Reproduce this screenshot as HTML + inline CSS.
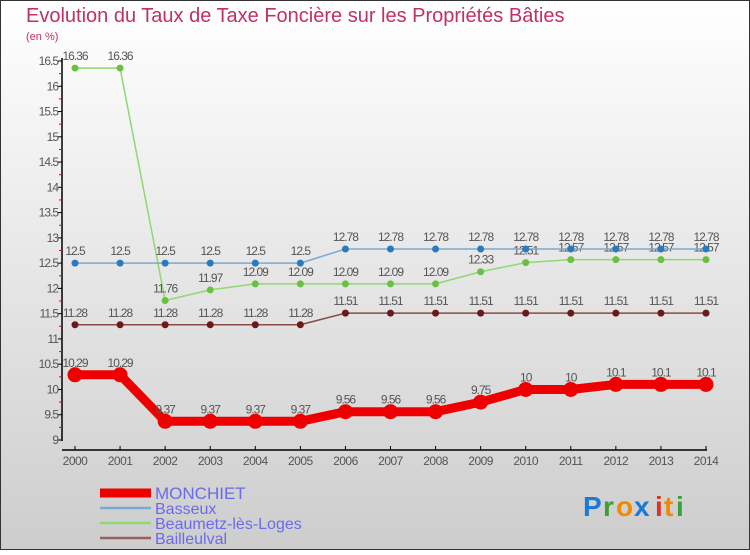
<!DOCTYPE html>
<html><head><meta charset="utf-8"><style>
body{margin:0}
svg text{font-family:"Liberation Sans",sans-serif}
</style></head><body>
<svg width="750" height="550" xmlns="http://www.w3.org/2000/svg">
<defs><linearGradient id="bg" x1="0" y1="0" x2="0" y2="1"><stop offset="0" stop-color="#ffffff"/><stop offset="1" stop-color="#cdcdcd"/></linearGradient></defs>
<rect x="0.5" y="0.5" width="749" height="549" fill="url(#bg)" stroke="#333"/>
<text x="26" y="22" font-size="20" fill="#c0306a">Evolution du Taux de Taxe Foncière sur les Propriétés Bâties</text>
<text x="26" y="40" font-size="11" fill="#c0306a">(en %)</text>
<g id="axes"></g>
<g id="series"></g>
<g id="legend"></g>
<g font-size="28" font-weight="bold">
<text x="583" y="516" fill="#1a7ad4">P</text><text x="603" y="516" fill="#3aa03a">r</text><text x="616" y="516" fill="#f08a00">o</text><text x="634" y="516" fill="#1a7ad4">x</text><text x="655" y="516" fill="#e03020">i</text><text x="664" y="516" fill="#f08a00">t</text><text x="676" y="516" fill="#3aa03a">i</text>
</g>
</svg>
<script>
const years=[2000,2001,2002,2003,2004,2005,2006,2007,2008,2009,2010,2011,2012,2013,2014];
const monchiet=[10.29,10.29,9.37,9.37,9.37,9.37,9.56,9.56,9.56,9.75,10,10,10.1,10.1,10.1];
const basseux=[12.5,12.5,12.5,12.5,12.5,12.5,12.78,12.78,12.78,12.78,12.78,12.78,12.78,12.78,12.78];
const beaumetz=[16.36,16.36,11.76,11.97,12.09,12.09,12.09,12.09,12.09,12.33,12.51,12.57,12.57,12.57,12.57];
const bailleulval=[11.28,11.28,11.28,11.28,11.28,11.28,11.51,11.51,11.51,11.51,11.51,11.51,11.51,11.51,11.51];
const yTicks=[9,9.5,10,10.5,11,11.5,12,12.5,13,13.5,14,14.5,15,15.5,16,16.5];
const NS="http://www.w3.org/2000/svg";
const x=i=>75+i*(706-75)/14;
const y=v=>440-(v-9)*(440-61)/7.5;
function mk(t,a,p){const e=document.createElementNS(NS,t);for(const k in a)e.setAttribute(k,a[k]);p.appendChild(e);return e;}
const ax=document.getElementById('axes');
let l=mk('line',{x1:62,y1:58,x2:62,y2:441,stroke:'#000','stroke-width':1.5},ax);


l=mk('line',{x1:62,y1:450,x2:707,y2:450,stroke:'#000','stroke-width':1.5},ax);


yTicks.forEach((v,i)=>{
 mk('line',{x1:58,y1:y(v),x2:62,y2:y(v),stroke:'#000'},ax);
 if(i<yTicks.length-1) mk('line',{x1:59,y1:y(v+0.25),x2:62,y2:y(v+0.25),stroke:'#e00'},ax);
 const t=mk('text',{x:58,y:y(v)+4,'font-size':12,'text-anchor':'end',fill:'#555','letter-spacing':'-1'},ax);
 t.textContent=String(v);
 
 
});
years.forEach((yr,i)=>{
 mk('line',{x1:x(i),y1:446,x2:x(i),y2:450,stroke:'#000'},ax);
 const t=mk('text',{x:x(i),y:465,'font-size':12,'text-anchor':'middle',fill:'#555','letter-spacing':'-0.5'},ax);
 t.textContent=String(yr);
 
 
});
const sg=document.getElementById('series');
function series(name,data,color,dot,w,r){
 const g=mk('g',{},sg);
 
 
 const p=mk('polyline',{points:data.map((v,i)=>x(i)+','+y(v)).join(' '),fill:'none',stroke:color,'stroke-width':w,'stroke-linejoin':'round'},g);
 
 
 data.forEach((v,i)=>{
  const c=mk('circle',{cx:x(i),cy:y(v),r:r,fill:dot},g);
  
  
  const t=mk('text',{x:x(i),y:y(v)-8,'font-size':12,'text-anchor':'middle',fill:'#555','letter-spacing':'-1'},g);
  t.textContent=String(v);
  
  
 });
}
series('bailleulval',bailleulval,'#8a4a4a','#6a1a1a',1.5,3.5);
series('beaumetz',beaumetz,'#90d870','#6ac040',1.5,3.5);
series('basseux',basseux,'#7aaad0','#2a7ac0',1.5,3.5);
series('monchiet',monchiet,'#ee0000','#ee0000',9,7.5);
const lg=document.getElementById('legend');
const leg=[['MONCHIET','#ee0000',9,17],['Basseux','#7aaad0',2.5,16],['Beaumetz-lès-Loges','#90d870',2.5,16],['Bailleulval','#9a6060',2.5,16]];
leg.forEach((d,i)=>{
 const yy=493+i*15;
 const g=mk('g',{},lg);
 
 
 mk('line',{x1:100,y1:yy,x2:151,y2:yy,stroke:d[1],'stroke-width':d[2]},g);
 const t=mk('text',{x:155,y:yy+6,'font-size':d[3],fill:'#6a6aee'},g);
 t.textContent=d[0];
});
</script>
</body></html>
